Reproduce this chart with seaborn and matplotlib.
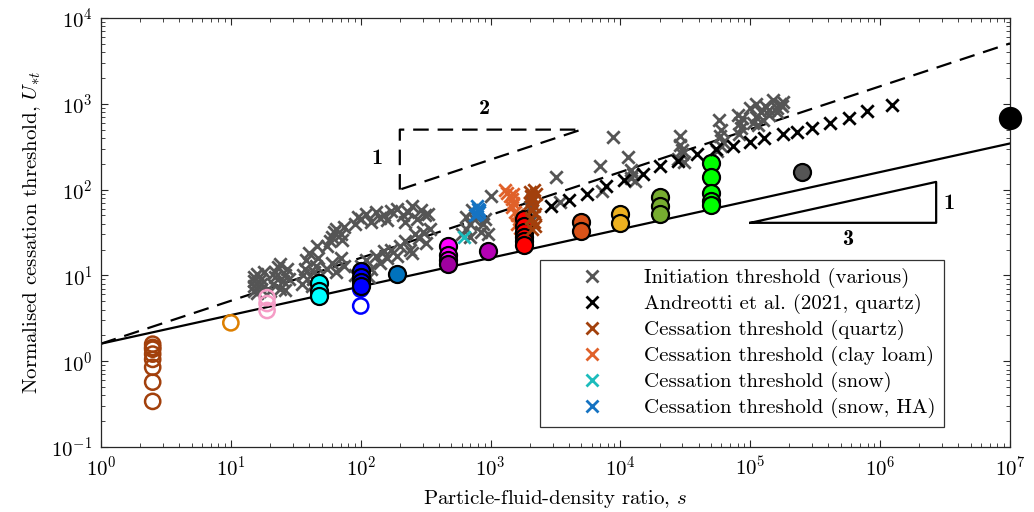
import numpy as np
import pandas as pd
import matplotlib
matplotlib.use('Agg')
import matplotlib.pyplot as plt
from matplotlib.lines import Line2D
from matplotlib.ticker import LogLocator, NullFormatter
import seaborn as sns

# ---- data ----
# straight fits on log-log axes, given by their end points
line_s = [1, 1e7]
fit_cess = [1.6, 345]      # ~ s^(1/3)
fit_init = [1.6, 5060]     # ~ s^(1/2)

# initiation threshold (various)
init_s = [15, 15, 15, 15, 16, 16, 17, 17, 17, 18,
          20, 21, 22, 22, 23, 24, 24, 25, 26, 26, 27, 28,
          35, 36, 37, 38, 40, 42, 43, 44, 45, 46, 47,
          55, 58, 60, 62, 65, 70, 72, 75, 55, 60, 65, 70, 75,
          90, 95, 100, 110, 120, 130, 140, 150, 160, 170,
          90, 100, 110, 115, 120, 130, 140, 150, 160, 170,
          190, 210, 230, 250, 270, 290, 310, 330, 220,
          190, 200, 220, 240, 250, 260, 280, 300, 320, 340,
          600, 650, 700, 700, 720, 750, 850, 870, 900, 950, 650, 1000,
          1950, 2000, 2050, 2100, 2000, 3200, 3400,
          6900, 7200, 8700, 11500, 12000, 12500, 13000, 12000,
          29000, 29000, 30000, 28000, 31000, 30000,
          57000, 60000, 58000, 62000, 60000, 55000,
          80000, 83000, 85000, 82000, 86000,
          100000, 110000, 120000, 130000, 140000, 150000, 160000, 170000,
          180000, 110000, 125000, 140000, 160000, 105000, 115000, 175000]
init_u = [6.5, 7.5, 8.5, 9.5, 10.5, 6.2, 7.0, 8.0, 9.0, 11.0,
          6.5, 8.0, 9.5, 11.0, 12.5, 7.0, 13.5, 8.5, 10.0, 6.8, 12.0, 9.0,
          8.0, 10.0, 12.0, 15.0, 18.0, 7.5, 9.0, 11.0, 13.0, 22.0, 16.0,
          22, 25, 28, 32, 35, 30, 26, 37, 12, 14, 11, 16, 13,
          40, 48, 45, 52, 42, 55, 47, 50, 44, 56,
          10, 13, 15, 9.5, 12, 17, 14, 19, 16, 20,
          60, 50, 55, 65, 45, 58, 50, 52, 42,
          17, 22, 25, 20, 18, 30, 27, 32, 24, 35,
          30, 35, 40, 28, 58, 45, 32, 40, 45, 30, 48, 84,
          50, 62, 72, 82, 42, 140, 72,
          187, 96, 410, 240, 170, 150, 125, 135,
          420, 330, 260, 230, 210, 290,
          650, 500, 420, 360, 320, 280,
          750, 600, 520, 450, 680,
          900, 1000, 800, 950, 850, 1100, 900, 1000,
          1050, 700, 650, 750, 800, 600, 560, 950]

# Andreotti et al. (2021, quartz)
andr_s = [2900, 4000, 5500, 7800, 10700, 15000, 20000, 28000, 39000, 54000,
          74000, 100000, 127000, 180000, 230000, 300000, 410000, 580000,
          790000, 1230000]
andr_u = [64, 75, 88, 110, 130, 150, 188, 214, 258, 295,
          318, 355, 395, 445, 467, 525, 590, 680, 815, 960]

# cessation threshold crosses
quartz_s = [2000, 2050, 2100, 2150, 2100, 2200, 2050, 2150, 2200, 2100, 2250, 2000, 2150]
quartz_u = [95, 85, 75, 65, 58, 52, 47, 42, 38, 35, 90, 70, 100]
clay_s = [1300, 1350, 1400, 1450, 1500, 1450, 1550, 1600, 1650, 1600,
          1700, 1750, 1750, 1500, 1700]
clay_u = [100, 92, 85, 78, 70, 62, 55, 50, 45, 40, 36, 32, 29, 88, 42]
snow_s = [620]
snow_u = [28]
snowha_s = [760, 780, 790, 800, 810, 820]
snowha_u = [50, 65, 52, 60, 58, 55]

# cessation threshold circles (open)
open_quartz_s = [2.5] * 8
open_quartz_u = [1.58, 1.45, 1.38, 1.21, 1.05, 0.85, 0.57, 0.34]
open_orange_s = [10]
open_orange_u = [2.8]
open_pink_s = [19, 19, 19]
open_pink_u = [5.5, 4.7, 3.9]
open_blue_s = [100, 100]
open_blue_u = [6.9, 4.4]

# cessation threshold circles (filled)
fill_groups = ['cyan', 'blue', 'mblue', 'magenta', 'dmagenta', 'purple',
               'dorange', 'yellow', 'olive', 'green', 'grey', 'black']
fill_s = [[48, 48, 48], [100, 100, 100, 100], [190], [470, 470, 470], [470],
          [950], [5000, 5000], [10000, 10000],
          [20000, 20000, 20000], [50000, 50000, 50000, 50000, 50000],
          [250000], [1e7]]
fill_u = [[8.1, 6.5, 5.7], [11.2, 9.5, 8.3, 7.5], [10.3], [22, 17.5, 15], [13.5],
          [19], [42, 33], [52, 41],
          [82, 64, 52], [205, 140, 92, 74, 67],
          [160], [680]]
red_s = [1800, 1800, 1800, 1800, 1800, 1800]
red_u = [45, 38, 32, 28, 25, 22.5]

# ---- styles ----
fill_colors = {'cyan': '#00FFFF', 'blue': '#0000FF', 'mblue': '#0072BD',
               'magenta': '#FF00FF', 'dmagenta': '#A000A0', 'purple': '#B400B4',
               'dorange': '#D95319', 'yellow': '#EDB120',
               'olive': '#77AC30', 'green': '#00FF00', 'grey': '#555555',
               'black': '#000000'}

plt.rcParams['font.family'] = 'cmr10'
plt.rcParams['mathtext.fontset'] = 'cm'
plt.rcParams['axes.formatter.use_mathtext'] = True
plt.rcParams['axes.unicode_minus'] = False
fs = 15

fig = plt.figure(figsize=(10.34, 5.12), dpi=100)
ax = fig.add_axes([101 / 1034, 1 - 447 / 512, 909 / 1034, 429 / 512])
ax.set_xscale('log')
ax.set_yscale('log')

# fits
sns.lineplot(x=line_s, y=fit_cess, color='k', lw=1.6, ax=ax, zorder=2)
sns.lineplot(x=line_s, y=fit_init, color='k', lw=1.6, ax=ax, zorder=2
             ).lines[-1].set_dashes((7, 4))

# slope triangles
ax.plot([200, 200, 5000, 200], [100, 500, 500, 100], color='k', lw=1.6,
        dashes=(7, 4), zorder=2)
ax.plot([1e5, 2.7e6, 2.7e6, 1e5], [41, 41, 123, 41], color='k', lw=1.6, zorder=2)
bkw = dict(fontsize=fs + 1, ha='center', va='center', family='cmb10')
ax.text(134, 230, '1', **bkw)
ax.text(900, 870, '2', **bkw)
ax.text(3.4e6, 68, '1', **bkw)
ax.text(5.6e5, 26, '3', **bkw)

xkw = dict(marker='x', s=80, linewidth=2.0, ax=ax)
sns.scatterplot(x=init_s, y=init_u, color='#555555', zorder=3, **xkw)

# open circles
for s_, u_, c in [(open_quartz_s, open_quartz_u, '#A2400C'),
                  (open_orange_s, open_orange_u, '#DD7F00'),
                  (open_pink_s, open_pink_u, '#F59CC6'),
                  (open_blue_s, open_blue_u, '#0000FF')]:
    sns.scatterplot(x=s_, y=u_, color=c, facecolor='none', edgecolor=c,
                    marker='o', s=120, linewidth=1.8, ax=ax, zorder=4)

# filled circles
for g, s_, u_ in zip(fill_groups, fill_s, fill_u):
    big = g == 'black'
    sns.scatterplot(x=s_, y=u_, color=fill_colors[g], edgecolor='k',
                    marker='o', s=230 if big else 150, linewidth=1.6,
                    ax=ax, zorder=4, clip_on=not big)

# coloured crosses
groups_x = [(andr_s, andr_u, '#000000', 'Andreotti et al. (2021, quartz)', 5),
            (quartz_s, quartz_u, '#A2400C', 'Cessation threshold (quartz)', 6),
            (clay_s, clay_u, '#E0612A', 'Cessation threshold (clay loam)', 5),
            (snow_s, snow_u, '#1CBCBC', 'Cessation threshold (snow)', 5),
            (snowha_s, snowha_u, '#1573C2', 'Cessation threshold (snow, HA)', 5)]
for s_, u_, c, lab, z in groups_x:
    sns.scatterplot(x=s_, y=u_, color=c, zorder=z, **xkw)

# red circles sit between the clay-loam and quartz crosses
sns.scatterplot(x=red_s, y=red_u, color='#FF0000', edgecolor='k', marker='o',
                s=150, linewidth=1.6, ax=ax, zorder=5.5)

# legend
handles = [Line2D([], [], ls='none', marker='x', ms=8, mew=2.0, color='#555555')]
labels = ['Initiation threshold (various)']
for s_, u_, c, lab, z in groups_x:
    handles.append(Line2D([], [], ls='none', marker='x', ms=8, mew=2.0, color=c))
    labels.append(lab)
leg = ax.legend(handles, labels, loc='upper left',
                bbox_to_anchor=((540 - 101) / 909, (447 - 260) / 429),
                borderaxespad=0, fontsize=fs, frameon=True, fancybox=False,
                framealpha=1, edgecolor='#333333', handlelength=4.2,
                handletextpad=0.4, borderpad=0.4, labelspacing=0.28)
leg.get_frame().set_linewidth(0.9)
leg.set_zorder(10)

ax.set_xlim(1, 1e7)
ax.set_ylim(0.1, 1e4)
ax.set_xticks([10.0 ** k for k in range(0, 8)])
ax.set_yticks([10.0 ** k for k in range(-1, 5)])
ax.xaxis.set_minor_locator(LogLocator(base=10, subs=np.arange(2, 10), numticks=20))
ax.yaxis.set_minor_locator(LogLocator(base=10, subs=np.arange(2, 10), numticks=20))
ax.xaxis.set_minor_formatter(NullFormatter())
ax.yaxis.set_minor_formatter(NullFormatter())
ax.set_xlim(1, 1e7)
ax.set_ylim(0.1, 1e4)
ax.tick_params(which='both', direction='in', top=True, right=True,
               labelsize=fs, color='#262626')
ax.tick_params(which='major', length=5, width=0.8, pad=6)
ax.tick_params(which='minor', length=3, width=0.6)
for sp in ax.spines.values():
    sp.set_linewidth(0.9)
    sp.set_color('#262626')

ax.set_xlabel(r'Particle-fluid-density ratio, $s$', fontsize=fs, labelpad=6)
ax.set_ylabel(r'Normalised cessation threshold, $U_{*t}$', fontsize=fs, labelpad=6)

fig.savefig('out.png', dpi=100)
